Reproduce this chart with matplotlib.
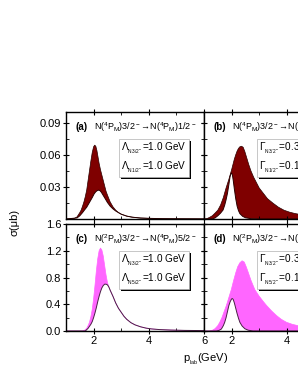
import numpy as np
import matplotlib
matplotlib.use("Agg")
import matplotlib.pyplot as plt
from matplotlib import patheffects
from matplotlib.ticker import MultipleLocator

plt.rcParams['font.family'] = ['Liberation Sans', 'DejaVu Sans']
plt.rcParams['mathtext.fontset'] = 'custom'
plt.rcParams['mathtext.rm'] = 'Liberation Sans'
plt.rcParams['mathtext.it'] = 'Liberation Sans:italic'
plt.rcParams['mathtext.bf'] = 'Liberation Sans:bold'

# ---- panel (a): N(4PM)3/2- -> N(4PM)1/2-, cutoffs varied
a_up_x = [1.0, 1.3, 1.4, 1.5, 1.55, 1.6, 1.65, 1.7, 1.75, 1.8, 1.85, 1.9, 1.95, 2.0, 2.04,
          2.08, 2.12, 2.16, 2.2, 2.25, 2.3, 2.35, 2.4, 2.45, 2.5, 2.6, 2.7, 2.8, 2.9, 3.0,
          3.2, 3.4, 3.7, 4.0, 4.5, 5.0, 6.0]
a_up_y = [0.0, 0.0005, 0.002, 0.006, 0.0084, 0.012, 0.016, 0.021, 0.027, 0.036, 0.045,
          0.054, 0.062, 0.0675, 0.069, 0.068, 0.064, 0.058, 0.052, 0.046, 0.041, 0.036,
          0.031, 0.026, 0.0225, 0.016, 0.0115, 0.0083, 0.006, 0.0045, 0.0027, 0.0017,
          0.0009, 0.0006, 0.0003, 0.0002, 0.0001]
a_lo_x = [1.0, 1.4, 1.5, 1.6, 1.67, 1.75, 1.85, 1.95, 2.02, 2.08, 2.13, 2.18, 2.23, 2.28,
          2.35, 2.42, 2.5, 2.6, 2.7, 2.8, 2.9, 3.0, 3.2, 3.4, 3.7, 4.0, 4.5, 5.0, 6.0]
a_lo_y = [0.0, 0.001, 0.003, 0.006, 0.0084, 0.011, 0.0155, 0.020, 0.0235, 0.0255, 0.0265,
          0.027, 0.0265, 0.025, 0.022, 0.019, 0.0155, 0.012, 0.0095, 0.0075, 0.006,
          0.0045, 0.0027, 0.0017, 0.0009, 0.0006, 0.0003, 0.0002, 0.0001]

# ---- panel (b): widths varied
b_up_x = [1.0, 1.1, 1.2, 1.3, 1.4, 1.5, 1.6, 1.7, 1.8, 1.9, 2.0, 2.1, 2.15, 2.2, 2.25,
          2.3, 2.36, 2.42, 2.48, 2.55, 2.62, 2.7, 2.8, 2.9, 3.0, 3.15, 3.3, 3.5, 3.7, 3.9,
          4.1, 4.3, 4.6, 5.0, 5.5, 6.0]
b_up_y = [0.0, 0.0003, 0.0015, 0.003, 0.0055, 0.0082, 0.013, 0.020, 0.029, 0.037, 0.046,
          0.056, 0.060, 0.0635, 0.066, 0.0675, 0.068, 0.067, 0.063, 0.057, 0.051, 0.045,
          0.039, 0.034, 0.029, 0.024, 0.019, 0.0148, 0.011, 0.0082, 0.0064, 0.0051,
          0.0037, 0.0025, 0.0016, 0.0011]
b_lo_x = [1.0, 1.3, 1.4, 1.5, 1.6, 1.69, 1.75, 1.8, 1.85, 1.9, 1.94, 1.97, 2.0, 2.03,
          2.06, 2.1, 2.15, 2.2, 2.25, 2.3, 2.4, 2.5, 2.7, 3.0, 6.0]
b_lo_y = [0.0, 0.0, 0.001, 0.003, 0.0055, 0.0084, 0.013, 0.018, 0.024, 0.032, 0.039,
          0.042, 0.043, 0.041, 0.036, 0.028, 0.019, 0.012, 0.0078, 0.005, 0.0025, 0.0012,
          0.0003, 0.0, 0.0]

# ---- panel (c): N(2PM)3/2- -> N(4PM)5/2-, cutoffs varied
c_up_x = [1.0, 1.6, 1.67, 1.75, 1.8, 1.85, 1.9, 1.95, 2.0, 2.05, 2.1, 2.15, 2.2, 2.25,
          2.3, 2.35, 2.4, 2.45, 2.5, 2.55, 2.6, 2.7, 2.8, 2.9, 3.0, 3.1, 3.2, 3.35, 3.5,
          3.7, 3.9, 4.1, 4.4, 4.8, 5.3, 6.0]
c_up_y = [0.0, 0.0, 0.01, 0.04, 0.08, 0.13, 0.21, 0.32, 0.48, 0.68, 0.90, 1.08, 1.20,
          1.24, 1.21, 1.12, 0.98, 0.84, 0.73, 0.66, 0.61, 0.52, 0.42, 0.34, 0.28, 0.22,
          0.175, 0.125, 0.092, 0.063, 0.043, 0.031, 0.021, 0.014, 0.009, 0.006]
c_lo_x = [1.0, 1.7, 1.75, 1.8, 1.85, 1.9, 1.95, 2.0, 2.05, 2.1, 2.15, 2.2, 2.25, 2.3,
          2.35, 2.4, 2.45, 2.5, 2.55, 2.6, 2.7, 2.8, 2.9, 3.0, 3.1, 3.2, 3.35, 3.5, 3.7,
          3.9, 4.1, 4.4, 4.8, 5.3, 6.0]
c_lo_y = [0.0, 0.0, 0.02, 0.04, 0.07, 0.10, 0.14, 0.20, 0.27, 0.35, 0.44, 0.52, 0.59,
          0.645, 0.68, 0.70, 0.70, 0.69, 0.66, 0.61, 0.52, 0.42, 0.34, 0.28, 0.22, 0.175,
          0.125, 0.092, 0.063, 0.043, 0.031, 0.021, 0.014, 0.009, 0.006]

# ---- panel (d): widths varied
d_up_x = [1.0, 1.2, 1.3, 1.4, 1.5, 1.57, 1.65, 1.72, 1.81, 1.9, 1.99, 2.07, 2.15, 2.22,
          2.3, 2.38, 2.46, 2.53, 2.6, 2.7, 2.84, 3.0, 3.15, 3.27, 3.45, 3.63, 3.8, 3.99,
          4.2, 4.4, 4.7, 5.0, 5.5, 6.0]
d_up_y = [0.0, 0.0, 0.01, 0.035, 0.08, 0.13, 0.20, 0.28, 0.38, 0.50, 0.62, 0.75, 0.87,
          0.96, 1.02, 1.05, 1.03, 0.96, 0.88, 0.76, 0.62, 0.52, 0.44, 0.38, 0.30, 0.23,
          0.175, 0.13, 0.10, 0.08, 0.058, 0.043, 0.03, 0.02]
d_lo_x = [1.0, 1.45, 1.55, 1.63, 1.7, 1.75, 1.8, 1.85, 1.9, 1.95, 2.0, 2.03, 2.06, 2.1,
          2.15, 2.2, 2.25, 2.3, 2.38, 2.48, 2.6, 2.78, 6.0]
d_lo_y = [0.0, 0.0, 0.01, 0.03, 0.08, 0.13, 0.20, 0.29, 0.38, 0.44, 0.48, 0.485, 0.47,
          0.42, 0.34, 0.26, 0.19, 0.13, 0.075, 0.034, 0.012, 0.0, 0.0]

titles = ["N($^4$P$_\\mathrm{M}$)3/2$^-$→N($^4$P$_\\mathrm{M}$)1/2$^-$",
          "N($^4$P$_\\mathrm{M}$)3/2$^-$→N($^4$P$_\\mathrm{M}$)1/2$^-$",
          "N($^2$P$_\\mathrm{M}$)3/2$^-$→N($^4$P$_\\mathrm{M}$)5/2$^-$",
          "N($^2$P$_\\mathrm{M}$)3/2$^-$→N($^4$P$_\\mathrm{M}$)5/2$^-$"]
boxes = ["Λ$_{_{\\mathrm{N3/2^-}}}$=1.0 GeV\nΛ$_{_{\\mathrm{N1/2^-}}}$=1.0 GeV",
         "Γ$_{_{\\mathrm{N3/2^-}}}$=0.3 GeV\nΓ$_{_{\\mathrm{N1/2^-}}}$=0.1 GeV",
         "Λ$_{_{\\mathrm{N3/2^-}}}$=1.0 GeV\nΛ$_{_{\\mathrm{N5/2^-}}}$=1.0 GeV",
         "Γ$_{_{\\mathrm{N3/2^-}}}$=0.3 GeV\nΓ$_{_{\\mathrm{N5/2^-}}}$=0.1 GeV"]
tags = ["(a)", "(b)", "(c)", "(d)"]

fig = plt.figure(figsize=(2.98, 3.85), dpi=100)
W, H = 138 / 298, 107 / 385
ax_a = fig.add_axes([66 / 298, 1 - 219 / 385, W, H])
ax_b = fig.add_axes([204 / 298, 1 - 219 / 385, W, H])
ax_c = fig.add_axes([66 / 298, 1 - 331 / 385, W, H])
ax_d = fig.add_axes([204 / 298, 1 - 331 / 385, W, H])
axes = [ax_a, ax_b, ax_c, ax_d]

data = [(a_up_x, a_up_y, a_lo_x, a_lo_y), (b_up_x, b_up_y, b_lo_x, b_lo_y),
        (c_up_x, c_up_y, c_lo_x, c_lo_y), (d_up_x, d_up_y, d_lo_x, d_lo_y)]

for i, ax in enumerate(axes):
    ux, uy, lx, ly = data[i]
    top = i < 2
    fill = '#7f0000' if top else '#ff66ff'
    edge = '#2a0000' if top else '#4a2045'
    px = list(ux) + list(lx)[::-1]
    py = list(uy) + list(ly)[::-1]
    ax.fill(px, py, color=fill, lw=0)
    ax.plot(ux, uy, color=edge if top else fill, lw=0.5)
    ax.plot(lx, ly, color=edge, lw=0.7)

    ax.set_xlim(1, 6)
    ax.xaxis.set_major_locator(MultipleLocator(2))
    ax.xaxis.set_minor_locator(MultipleLocator(1))
    if top:
        ax.set_ylim(0, 0.1)
        ax.set_yticks([0.03, 0.06, 0.09])
        ax.yaxis.set_minor_locator(MultipleLocator(0.015))
        ax.set_xticklabels([])
    else:
        ax.set_ylim(0, 1.6)
        ax.set_yticks([0.0, 0.4, 0.8, 1.2, 1.6])
        ax.yaxis.set_minor_locator(MultipleLocator(0.2))
        ax.set_xticks([2, 4, 6])
        ax.set_xticklabels(['2', '4', '6'])
    if i % 2 == 1:
        ax.set_yticklabels([])
    ax.tick_params(which='major', direction='inout', length=4, width=0.8,
                   top=True, right=True, labelsize=8, pad=1.5)
    ax.tick_params(which='minor', direction='in', length=2, width=0.6,
                   top=True, right=True)
    for s in ax.spines.values():
        s.set_linewidth(1.0)

    ax.text(0.072, 0.86, tags[i], transform=ax.transAxes, fontsize=7,
            fontweight='bold', va='center', ha='left')
    ax.text(0.205, 0.86, titles[i], transform=ax.transAxes, fontsize=6.5,
            va='center', ha='left')
    t = ax.text(0.40, 0.725, boxes[i], transform=ax.transAxes, fontsize=7.2,
                va='top', ha='left', linespacing=1.3,
                bbox=dict(boxstyle='square,pad=0.22', fc='white', ec='#b0b0b0', lw=0.5))
    t.get_bbox_patch().set_path_effects([
        patheffects.SimplePatchShadow(offset=(1.5, -1.5), shadow_rgbFace='black', alpha=1.0),
        patheffects.Normal()])

fig.text(15 / 298, 1 - 222 / 385, "σ(μb)", rotation=90, fontsize=8,
         ha='center', va='center')
fig.text(206 / 298, 1 - 359 / 385, "p$_{_\\mathrm{lab}}$(GeV)", fontsize=8,
         ha='center', va='center')

fig.savefig('out.png', dpi=100)
